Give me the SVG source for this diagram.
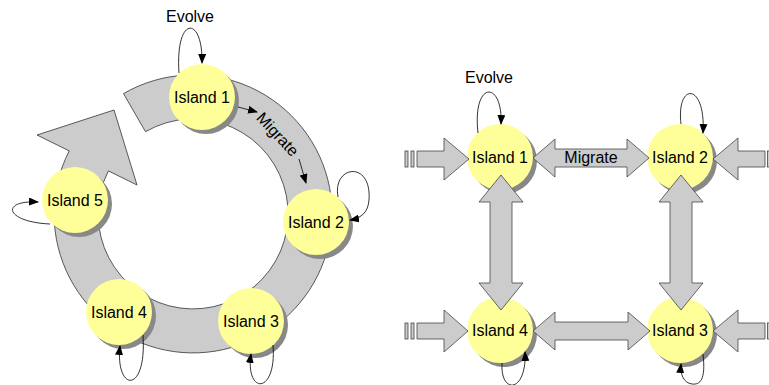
<svg xmlns="http://www.w3.org/2000/svg" width="769" height="385" viewBox="0 0 769 385">
<defs>
<marker id="ah" markerWidth="10" markerHeight="8" refX="9" refY="4" orient="auto" markerUnits="userSpaceOnUse">
<path d="M0,0 L10,4 L0,8 Z" fill="#000"/>
</marker>
<style>
.shadow{fill:#888888}
.isl{fill:#ffff99}
.lbl{font-family:"Liberation Sans",Arial,sans-serif;font-size:16px;fill:#000}
.ctr{text-anchor:middle}
.ring{fill:#cccccc;stroke:#333333;stroke-width:0.8}
.big{fill:#cccccc;stroke:#444444;stroke-width:0.8}
.loop{fill:none;stroke:#000;stroke-width:0.8;marker-end:url(#ah)}
</style>
</defs>
<rect width="769" height="385" fill="#ffffff"/>

<g id="ring">
<path class="ring" d="M123.5,93.6 A139,139 0 1 1 69.2,150.9 L37,135 L114,110 L137,185 L108.4,170.9 A95,95 0 1 0 145.5,131.7 Z"/>
</g>

<g id="L-island1"><circle class="shadow" cx="206" cy="101" r="33"/><circle class="isl" cx="202" cy="97" r="33"/><text class="lbl ctr" x="202" y="103">Island 1</text></g>
<g id="L-island2"><circle class="shadow" cx="320" cy="226" r="33"/><circle class="isl" cx="316" cy="222" r="33"/><text class="lbl ctr" x="316" y="228">Island 2</text></g>
<g id="L-island3"><circle class="shadow" cx="255" cy="325" r="33"/><circle class="isl" cx="251" cy="321" r="33"/><text class="lbl ctr" x="251" y="327">Island 3</text></g>
<g id="L-island4"><circle class="shadow" cx="123" cy="316" r="33"/><circle class="isl" cx="119" cy="312" r="33"/><text class="lbl ctr" x="119" y="318">Island 4</text></g>
<g id="L-island5"><circle class="shadow" cx="79" cy="204" r="33"/><circle class="isl" cx="75" cy="200" r="33"/><text class="lbl ctr" x="75" y="206">Island 5</text></g>

<g id="R-island1"><circle class="shadow" cx="504" cy="161" r="33"/><circle class="isl" cx="500" cy="157" r="33"/><text class="lbl ctr" x="500" y="163">Island 1</text></g>
<g id="R-island2"><circle class="shadow" cx="684" cy="161" r="33"/><circle class="isl" cx="680" cy="157" r="33"/><text class="lbl ctr" x="680" y="163">Island 2</text></g>
<g id="R-island4"><circle class="shadow" cx="504" cy="334" r="33"/><circle class="isl" cx="500" cy="330" r="33"/><text class="lbl ctr" x="500" y="336">Island 4</text></g>
<g id="R-island3"><circle class="shadow" cx="684" cy="334" r="33"/><circle class="isl" cx="680" cy="330" r="33"/><text class="lbl ctr" x="680" y="336">Island 3</text></g>

<g id="connectors">
<!-- left diagram -->
<path class="loop" d="M179,73 C175,15 203,15 202,63"/>
<path class="loop" d="M338,197 C332,165 372,160 369,200 C368,212 362,218 350,220"/>
<path class="loop" d="M273,345 C277,395 245,395 251,354"/>
<path class="loop" d="M143,335 C147,395 115,392 120,346"/>
<path class="loop" d="M50,224 C5,222 0,200 38,202"/>
<path class="loop" d="M238,107 L257,112"/>
<path class="loop" d="M299,159 L306,183"/>
<text class="lbl ctr" transform="translate(278,134) rotate(47)" x="0" y="6">Migrate</text>
<text class="lbl ctr" x="190" y="22">Evolve</text>

<!-- right diagram -->
<path class="loop" d="M478,133 C472,80 503,80 501,124"/>
<path class="loop" d="M681,124 C676,82 706,82 703,133"/>
<path class="loop" d="M502,363 C500,395 527,393 525,352"/>
<path class="loop" d="M703,354 C706,380 700,385 692,384 C684,383 680,375 681,364"/>
<text class="lbl ctr" x="489" y="83">Evolve</text>

<path class="big" d="M533,158 L555,139 L555,149 L627,149 L627,139 L649,158 L627,177 L627,167 L555,167 L555,177 Z"/>
<text class="lbl ctr" x="591" y="163">Migrate</text>
<path class="big" d="M533,331 L555,312 L555,322 L628,322 L628,312 L650,331 L628,350 L628,340 L555,340 L555,350 Z"/>
<path class="big" d="M501,175 L523,202 L512,202 L512,283 L523,283 L501,310 L479,283 L490,283 L490,202 L479,202 Z"/>
<path class="big" d="M681,175 L703,202 L692,202 L692,283 L703,283 L681,310 L659,283 L670,283 L670,202 L659,202 Z"/>

<path class="big" d="M417,151 L444,151 L444,138 L469,159 L444,180 L444,167 L417,167 Z"/>
<rect class="big" x="405" y="151" width="3" height="16"/>
<rect class="big" x="411" y="151" width="3" height="16"/>
<path class="big" d="M417,323 L444,323 L444,310 L468,331 L444,352 L444,339 L417,339 Z"/>
<rect class="big" x="405" y="323" width="3" height="16"/>
<rect class="big" x="411" y="323" width="3" height="16"/>

<path class="big" d="M765,151 L738,151 L738,138 L713,159 L738,180 L738,167 L765,167 Z"/>
<rect class="big" x="767.5" y="151" width="3" height="16"/>
<path class="big" d="M765,323 L738,323 L738,310 L713,331 L738,352 L738,339 L765,339 Z"/>
<rect class="big" x="767.5" y="323" width="3" height="16"/>
</g>
</svg>
